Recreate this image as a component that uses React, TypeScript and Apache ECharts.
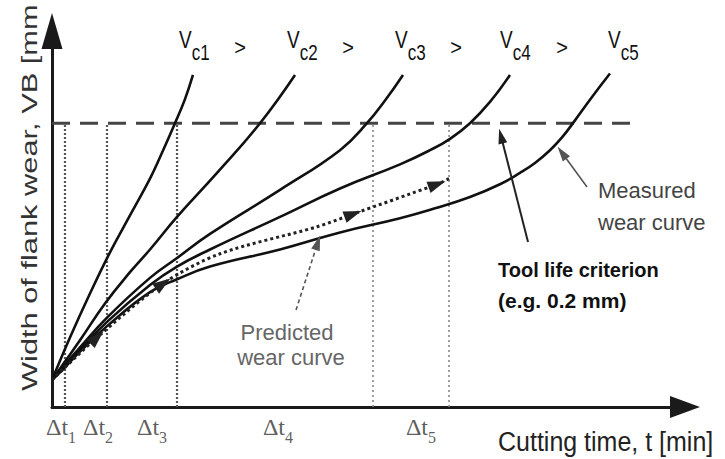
import React, { useEffect, useRef } from "react";
import * as echarts from "echarts";

// ---- data (cutting time t in min, flank wear VB in mm) ----
const curveNames = ["Vc1", "Vc2", "Vc3", "Vc4", "Vc5"];
const vc1T = [0, 2.84, 6.0, 9.16, 12.32, 15.48, 17.06, 19.43, 21.01, 22.27];
const vc1VB = [0.019, 0.049, 0.08, 0.109, 0.135, 0.161, 0.176, 0.2, 0.217, 0.234];
const vc2T = [0, 2.05, 4.42, 8.37, 12.32, 15.48, 19.75, 26.07, 32.86, 38.39];
const vc2VB = [0.019, 0.032, 0.047, 0.073, 0.095, 0.111, 0.134, 0.165, 0.2, 0.234];
const vc3T = [0, 2.05, 4.42, 8.69, 15.48, 19.75, 24.96, 36.02, 45.5, 49.76, 52.61, 55.45];
const vc3VB = [0.019, 0.03, 0.042, 0.063, 0.091, 0.105, 0.122, 0.153, 0.181, 0.2, 0.216, 0.234];
const vc4T = [0, 2.05, 4.42, 8.69, 15.48, 19.75, 24.96, 36.02, 45.5, 54.98, 59.72, 62.88, 66.03, 69.19, 72.35];
const vc4VB = [0.019, 0.029, 0.04, 0.06, 0.086, 0.099, 0.111, 0.134, 0.154, 0.171, 0.181, 0.189, 0.2, 0.215, 0.234];
const vc5T = [0, 2.05, 4.42, 8.69, 15.48, 19.75, 24.96, 36.02, 45.5, 54.98, 60.51, 66.03, 70.77, 73.93, 76.3, 78.67, 80.57, 82.62, 85.31, 88.15];
const vc5VB = [0.019, 0.028, 0.039, 0.057, 0.081, 0.09, 0.099, 0.111, 0.123, 0.133, 0.14, 0.148, 0.157, 0.165, 0.172, 0.181, 0.19, 0.202, 0.2185, 0.235];

const predT = [0, 7.11, 17.54, 26.54, 41.86, 47.55, 60.82, 62.72];
const predVB = [0.019, 0.049, 0.087, 0.108, 0.127, 0.136, 0.157, 0.161];
const predArrowAt = [1, 2, 5, 6];
const predArrowAngle = [-46, -55, -70, -70];

const criterionVB = 0.2;
const criterionEndT = 92.4;
const intervalEndT = [2.05, 8.69, 19.75, 50.71, 62.72];
const intervalLabelT = [1.42, 7.27, 15.8, 35.7, 58.29];
const intervalIndex = ["1", "2", "3", "4", "5"];

// annotation arrows [fromT, fromVB, toT, toVB]
const predictedNote = [38.55, 0.0684, 41.99, 0.1158];
const measuredNote = [84.52, 0.1551, 80.57, 0.1792];
const criterionNote = [75.2, 0.1163, 70.93, 0.191];

const FONT = "Liberation Sans";

export default function App() {
  const ref = useRef<HTMLDivElement>(null);
  useEffect(() => {
    if (!ref.current) return;
    const chart = echarts.init(ref.current, null, { renderer: "svg" });
    const sets = [
      [vc1T, vc1VB],
      [vc2T, vc2VB],
      [vc3T, vc3VB],
      [vc4T, vc4VB],
      [vc5T, vc5VB],
    ];
    const curveSeries = curveNames.map((name, i) => ({
      name,
      type: "line",
      data: sets[i][0].map((t, j) => [t, sets[i][1][j]]),
      smooth: 0.45,
      symbol: "none",
      silent: true,
      z: 4,
      lineStyle: { color: "#111", width: 2.6 },
    }));
    const guideSeries = intervalEndT.map((t, i) => ({
      type: "line",
      data: [
        [t, 0],
        [t, criterionVB],
      ],
      symbol: "none",
      silent: true,
      z: 2,
      lineStyle: {
        color: i < 3 ? "#555" : "#888",
        width: i < 3 ? 2.2 : 1.6,
        type: i < 3 ? [2, 2] : [2, 3],
      },
    }));
    const arrowItem = (a: number[], color: string, width: number, type: any) => [
      { coord: [a[0], a[1]], symbol: "none", lineStyle: { color, width, type } },
      { coord: [a[2], a[3]], symbol: "triangle", symbolSize: [9, 15] },
    ];
    const criterionSeries = {
      type: "line",
      data: [
        [0, criterionVB],
        [criterionEndT, criterionVB],
      ],
      symbol: "none",
      silent: true,
      z: 3,
      lineStyle: { color: "#444", width: 3, type: [18, 10] },
      markLine: {
        silent: true,
        animation: false,
        label: { show: false },
        emphasis: { disabled: true },
        itemStyle: { color: "#333" },
        data: [
          arrowItem(predictedNote, "#555", 1.6, [4, 3]),
          arrowItem(measuredNote, "#555", 1.6, "solid"),
          arrowItem(criterionNote, "#222", 2, "solid"),
        ],
      },
    };
    const predictedSeries = {
      type: "line",
      data: predT.map((t, j) => {
        const k = predArrowAt.indexOf(j);
        return k < 0
          ? { value: [t, predVB[j]], symbol: "none" }
          : {
              value: [t, predVB[j]],
              symbol: "triangle",
              symbolSize: [12, 18],
              symbolRotate: predArrowAngle[k],
            };
      }),
      smooth: 0.3,
      silent: true,
      z: 5,
      lineStyle: { color: "#222", width: 3, type: [3, 3] },
      itemStyle: { color: "#222" },
    };
    const labelSeries = {
      type: "scatter",
      data: intervalLabelT.map((t, i) => ({ value: [t, 0], name: intervalIndex[i] })),
      symbolSize: 0,
      clip: false,
      silent: true,
      label: {
        show: true,
        position: "bottom",
        distance: 8,
        formatter: (p: any) => `{d|Δt}{s|${p.name}}`,
        rich: {
          d: { fontFamily: "Liberation Serif", fontSize: 24, lineHeight: 30, verticalAlign: "top", color: "#333" },
          s: { fontFamily: "Liberation Serif", fontSize: 16, lineHeight: 10, verticalAlign: "bottom", color: "#333" },
        },
      },
    };

    const txt = (x: number, y: number, text: string, size: number, fill: string, align: string, extra: any = {}, weight = "normal") => ({
      type: "text",
      x,
      y,
      silent: true,
      z: 10,
      ...extra,
      style: {
        text,
        fontFamily: FONT,
        fontSize: size,
        fontWeight: weight,
        fill,
        align,
        verticalAlign: "middle",
        textAlign: align,
        textVerticalAlign: "middle",
      },
    });

    const headerX = [179, 287, 395, 500, 608];
    const gtX = [240, 348, 456, 562];
    const headers = curveNames.map((n, i) => ({
      type: "text",
      x: headerX[i],
      y: 46,
      scaleY: 1.25,
      silent: true,
      z: 10,
      style: {
        text: `{v|V}{s|${n.slice(1)}}`,
        align: "left",
        verticalAlign: "middle",
        textAlign: "left",
        textVerticalAlign: "middle",
        rich: {
          v: { fontFamily: FONT, fontSize: 19, lineHeight: 28, verticalAlign: "top", fill: "#111" },
          s: { fontFamily: FONT, fontSize: 17, lineHeight: 10, verticalAlign: "bottom", fill: "#111" },
        },
      },
    }));
    const gts = gtX.map((x) => txt(x, 47, ">", 20, "#111", "center", { scaleY: 1.1 }));

    chart.setOption({
      animation: false,
      backgroundColor: "#fff",
      grid: { left: 52, right: 40, top: 31, bottom: 52 },
      xAxis: {
        type: "value",
        min: 0,
        max: 100,
        axisLine: {
          show: true,
          onZero: false,
          symbol: ["none", "triangle"],
          symbolSize: [22, 30],
          lineStyle: { color: "#1a1a1a", width: 3 },
        },
        axisTick: { show: false },
        axisLabel: { show: false },
        splitLine: { show: false },
      },
      yAxis: {
        type: "value",
        min: 0,
        max: 0.265,
        axisLine: {
          show: true,
          onZero: false,
          symbol: ["none", "triangle"],
          symbolSize: [21, 36],
          lineStyle: { color: "#1a1a1a", width: 3 },
        },
        axisTick: { show: false },
        axisLabel: { show: false },
        splitLine: { show: false },
      },
      series: [...guideSeries, criterionSeries, ...curveSeries, predictedSeries, labelSeries],
      graphic: [
        txt(30, 391, "Width of flank wear, VB [mm", 22, "#333", "left", { rotation: Math.PI / 2, scaleX: 1.4 }),
        txt(498, 442, "Cutting time, t [min]", 25, "#222", "left", { scaleY: 1.12 }),
        txt(287, 332, "Predicted", 22, "#666", "center"),
        txt(291, 357, "wear curve", 22, "#666", "center"),
        txt(598, 190, "Measured", 22, "#444", "left"),
        txt(598, 222, "wear curve", 22, "#444", "left"),
        txt(498, 270, "Tool life criterion", 20, "#111", "left", {}, "bold"),
        txt(498, 300, "(e.g. 0.2 mm)", 21, "#111", "left", {}, "bold"),
        ...headers,
        ...gts,
      ],
    });
    return () => chart.dispose();
  }, []);
  return <div ref={ref} style={{ position: "fixed", left: 0, top: 0, width: 725, height: 459 }} />;
}
